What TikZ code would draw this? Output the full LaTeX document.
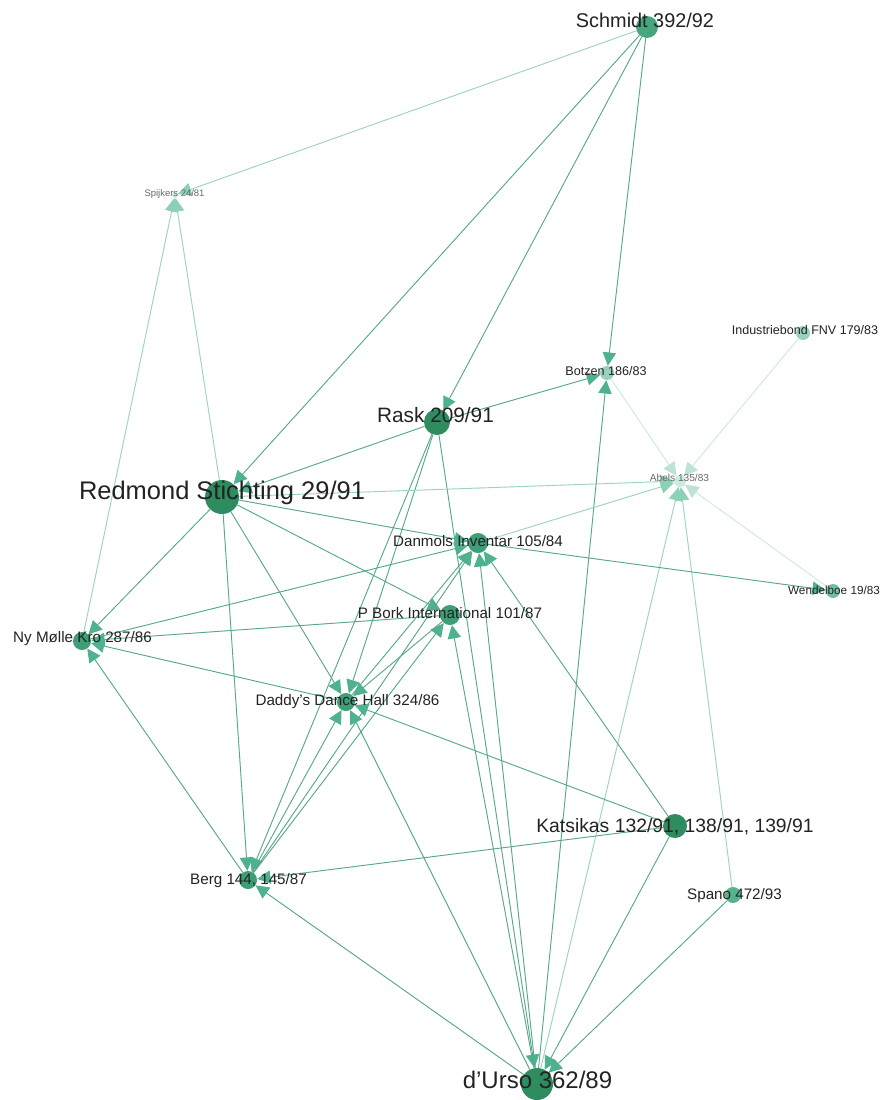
\documentclass[tikz,border=0pt]{standalone}
\usepackage{fontspec}
\setmainfont{Liberation Sans}
\usetikzlibrary{arrows.meta}
\definecolor{nDark}{RGB}{46,140,95}
\definecolor{nMid}{RGB}{62,158,118}
\definecolor{nSch}{RGB}{70,166,126}
\definecolor{nSpano}{RGB}{85,178,140}
\definecolor{nWen}{RGB}{115,192,160}
\definecolor{nBot}{RGB}{150,210,188}
\definecolor{nPale}{RGB}{205,234,223}
\definecolor{eMain}{RGB}{88,168,140}
\definecolor{aMain}{RGB}{78,178,142}
\definecolor{eLight}{RGB}{155,212,191}
\definecolor{aLight}{RGB}{140,208,182}
\definecolor{ePale}{RGB}{205,234,224}
\definecolor{aPale}{RGB}{188,227,213}
\definecolor{txt}{RGB}{35,35,35}
\definecolor{txtGray}{RGB}{105,105,105}
\begin{document}
\begin{tikzpicture}[x=0.75pt,y=-0.75pt,
  vtx/.style={circle,inner sep=0pt,draw=none},
  edge/.style={draw=eMain,line width=0.7pt,-{Triangle[length=10pt,width=10pt,color=aMain,fill=aMain]}},
  ledge/.style={draw=eLight,line width=0.7pt,-{Triangle[length=10pt,width=10pt,color=aLight,fill=aLight]}},
  pedge/.style={draw=ePale,line width=0.7pt,-{Triangle[length=10pt,width=10pt,color=aPale,fill=aPale]}},
  lab/.style={anchor=base,inner sep=0pt,text=txt},
  glab/.style={anchor=base,inner sep=0pt,text=txtGray}]
\fill[white] (0,0) rectangle (888,1100);
\useasboundingbox (0,0) rectangle (888,1100);

% nodes
\node[vtx,minimum size=16.5pt,fill=nSch]   (sch) at (647,27)  {};
\node[vtx,minimum size=4.5pt,fill=nPale]   (spi) at (175,195) {};
\node[vtx,minimum size=10.5pt,fill=nBot]   (ind) at (803,333) {};
\node[vtx,minimum size=10.5pt,fill=nBot]   (bot) at (607,373) {};
\node[vtx,minimum size=9pt,fill=nPale]     (abe) at (680,481) {};
\node[vtx,minimum size=10.5pt,fill=nWen]   (wen) at (833,591) {};
\node[vtx,minimum size=19.5pt,fill=nDark]  (ras) at (437,422) {};
\node[vtx,minimum size=25.5pt,fill=nDark]  (red) at (222,497) {};
\node[vtx,minimum size=15pt,fill=nMid]     (dan) at (478,543) {};
\node[vtx,minimum size=15pt,fill=nMid]     (pbo) at (450,615) {};
\node[vtx,minimum size=13.5pt,fill=nMid]   (nym) at (82,641)  {};
\node[vtx,minimum size=13.5pt,fill=nMid]   (dad) at (346,702) {};
\node[vtx,minimum size=18pt,fill=nDark]    (kat) at (675,826) {};
\node[vtx,minimum size=13.5pt,fill=nMid]   (ber) at (248,880) {};
\node[vtx,minimum size=12pt,fill=nSpano]   (spa) at (733,895) {};
\node[vtx,minimum size=24pt,fill=nDark]    (urs) at (537,1084) {};

% edges
\draw[ledge] (sch) -- (spi);
\draw[edge]  (sch) -- (red);
\draw[edge]  (sch) -- (ras);
\draw[edge]  (sch) -- (bot);
\draw[edge]  (ras) -- (red);
\draw[edge]  (ras) -- (bot);
\draw[edge]  (ras) -- (urs);
\draw[edge]  (ras) -- (dad);
\draw[edge]  (ras) -- (ber);
\draw[ledge] (red) -- (spi);
\draw[ledge] (red) -- (abe);
\draw[edge]  (red) -- (dan);
\draw[edge]  (red) -- (pbo);
\draw[edge]  (red) -- (nym);
\draw[edge]  (red) -- (dad);
\draw[edge]  (red) -- (ber);
\draw[ledge] (nym) -- (spi);
\draw[edge]  (nym) -- (dan);
\draw[edge]  (pbo) -- (nym);
\draw[edge]  (dad) -- (nym);
\draw[edge]  (ber) -- (nym);
\draw[edge]  (dad) -- (dan);
\draw[edge]  (ber) -- (dad);
\draw[edge]  (ber) -- (dan);
\draw[edge]  (ber) -- (pbo);
\draw[edge]  (pbo) -- (dad);
\draw[edge]  (urs) -- (pbo);
\draw[edge]  (urs) -- (dan);
\draw[edge]  (urs) -- (dad);
\draw[edge]  (urs) -- (ber);
\draw[edge]  (urs) -- (bot);
\draw[ledge] (urs) -- (abe);
\draw[edge]  (kat) -- (urs);
\draw[edge]  (kat) -- (dan);
\draw[edge]  (kat) -- (dad);
\draw[edge]  (kat) -- (ber);
\draw[edge]  (spa) -- (urs);
\draw[ledge] (spa) -- (abe);
\draw[ledge] (dan) -- (abe);
\draw[edge]  (dan) -- (wen);
\draw[pedge] (wen) -- (abe);
\draw[pedge] (ind) -- (abe);
\draw[pedge] (bot) -- (abe);

% labels
\node[lab,font=\fontsize{14.9}{17}\selectfont] (lsch) at (645,27.2) {Schmidt 392/92};
\node[glab,font=\fontsize{7.1}{8}\selectfont] (lspi) at (174.5,196.5) {Spijkers 24/81};
\node[lab,font=\fontsize{9.4}{11}\selectfont] (lind) at (805,334.5) {Industriebond FNV 179/83};
\node[lab,font=\fontsize{9.45}{11}\selectfont] (lbot) at (606,375.5) {Botzen 186/83};
\node[glab,font=\fontsize{7.6}{9}\selectfont] (labe) at (679.5,481.5) {Abels 135/83};
\node[lab,font=\fontsize{8.8}{10}\selectfont] (lwen) at (834,594) {Wendelboe 19/83};
\node[lab,font=\fontsize{15.6}{18}\selectfont] (lras) at (435.5,422.5) {Rask 209/91};
\node[lab,font=\fontsize{19.1}{22}\selectfont] (lred) at (222,499) {Redmond Stichting 29/91};
\node[lab,font=\fontsize{11.4}{13}\selectfont] (ldan) at (478,546.5) {Danmols Inventar 105/84};
\node[lab,font=\fontsize{11.4}{13}\selectfont] (lpbo) at (450,618.5) {P Bork International 101/87};
\node[lab,font=\fontsize{11.4}{13}\selectfont] (lnym) at (82.5,642.5) {Ny Mølle Kro 287/86};
\node[lab,font=\fontsize{11.4}{13}\selectfont] (ldad) at (347.5,705.5) {Daddy’s Dance Hall 324/86};
\node[lab,font=\fontsize{14.5}{17}\selectfont] (lkat) at (675,832) {Katsikas 132/91, 138/91, 139/91};
\node[lab,font=\fontsize{11.4}{13}\selectfont] (lber) at (248.5,884.5) {Berg 144, 145/87};
\node[lab,font=\fontsize{11.4}{13}\selectfont] (lspa) at (734.5,899.5) {Spano 472/93};
\node[lab,font=\fontsize{18}{21}\selectfont] (lurs) at (537.5,1088.6) {d’Urso 362/89};
\end{tikzpicture}
\end{document}
